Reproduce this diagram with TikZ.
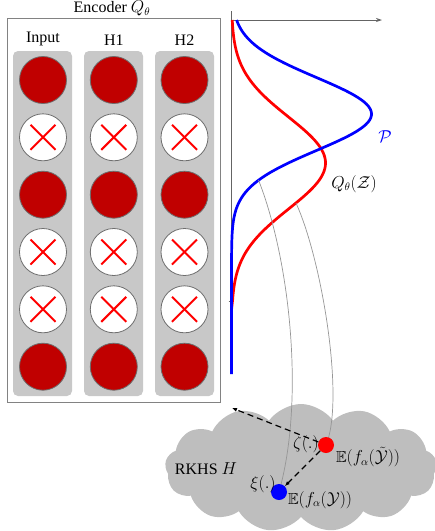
\documentclass[tikz,border=0pt]{standalone}
\usepackage{amssymb}
\usepackage{fontspec}
\setmainfont{Liberation Serif}
\usetikzlibrary{shapes.symbols,arrows.meta}
\definecolor{darkred}{RGB}{192,0,0}
\definecolor{colgray}{RGB}{200,200,200}
\definecolor{cloudgray}{RGB}{190,190,190}
\definecolor{circgray}{RGB}{110,110,110}
\definecolor{boxgray}{RGB}{130,130,130}
\definecolor{axisgray}{RGB}{100,100,100}
\definecolor{thingray}{RGB}{150,150,150}
\begin{document}
\begin{tikzpicture}[x=1pt,y=-1pt,font=\fontsize{16}{19}\selectfont,
  colbox/.style={fill=colgray,rounded corners=5pt,minimum width=59pt,minimum height=345pt,inner sep=0pt},
  cell/.style={circle,draw=circgray,line width=0.8pt,fill=#1,minimum size=47pt,inner sep=0pt},
  xline/.style={red,line width=2pt},
  axis/.style={axisgray,line width=0.8pt},
  curve/.style={line width=2.7pt},
  gline/.style={thingray,line width=0.7pt},
  darr/.style={dashed,dash pattern=on 6pt off 4pt,line width=1.2pt,-{Latex[length=5pt,width=4pt]}},
  dot/.style={circle,minimum size=16pt,inner sep=0pt}]
\useasboundingbox (0,0) rectangle (435,531);

% encoder box
\node[draw=boxgray,line width=0.8pt,minimum width=213pt,minimum height=384pt,inner sep=0pt] (enc) at (113.5,210) {};
\node[anchor=base,inner sep=0.5pt] (title) at (112,12.5) {Encoder $Q_\theta$};
\node[colbox] (c0) at (42.5,223.5) {};
\node[colbox] (c1) at (113.5,223.5) {};
\node[colbox] (c2) at (184.5,223.5) {};
\node[anchor=base] (lin) at (43,42) {Input};
\node[anchor=base] (lh1) at (113.8,45) {H1};
\node[anchor=base] (lh2) at (184.5,45) {H2};
\foreach \c/\cx in {0/43,1/113.8,2/184.5}{
  \foreach \r/\ry/\f in {1/80/darkred,2/137.3/white,3/194.7/darkred,4/252/white,5/309.3/white,6/366.7/darkred}{
    \node[cell=\f] (n\c\r) at (\cx,\ry) {};
  }
  \foreach \r in {2,4,5}{
    \draw[xline] (n\c\r.center) +(-12.5,-12.5) -- +(12.5,12.5);
    \draw[xline] (n\c\r.center) +(-12.5,12.5) -- +(12.5,-12.5);
  }
}

% axes
\draw[axis] (231.5,11) -- (231.5,374);
\draw[axis,-{Stealth[length=6pt,width=4pt]}] (231.5,20) -- (382,20);
\draw[axis] (228.5,301) -- (231.5,301);

% curves
\draw[curve,red] plot[domain=20:300,samples=120] ({231.5+94*exp(-0.5*((\x-163)/46)*((\x-163)/46))},\x) -- (231.5,310);
\draw[curve,blue] plot[domain=20:290,samples=120] ({231.5+140*exp(-0.5*((\x-114)/36.5)*((\x-114)/36.5))},\x) -- (231.5,374);
\node[blue] (lp) at (385,137) {$\mathcal{P}$};
\node (lq) at (354,184) {$Q_\theta(\mathcal{Z})$};

% cloud
\node[cloud,cloud puffs=13,cloud puff arc=110,aspect=2.1,fill=cloudgray,minimum width=272pt,minimum height=128pt,inner sep=0pt] (rkhs) at (301,468) {};
\node (lrk) at (206,469) {RKHS $H$};

\coordinate (bq) at (258.5,180);
\coordinate (rq) at (296,203);
\coordinate (hfree) at (232,408);
\node[dot] (rdot) at (326,445) {};
\node[dot] (bdot) at (279,492) {};
\draw[gline] (bq) .. controls (290,260) and (305,400) .. (bdot.center);
\draw[gline] (rq) .. controls (322,260) and (345,400) .. (rdot.center);
\draw[darr] (rdot) -- (hfree);
\draw[darr] (rdot) -- (bdot);
\fill[red] (rdot.center) circle (8);
\fill[blue] (bdot.center) circle (8);
\node (lz) at (306,444) {$\zeta(.)$};
\node (lx) at (263,484) {$\xi(.)$};
\node (le1) at (368,457) {$\mathbb{E}(f_\alpha(\tilde{\mathcal{Y}}))$};
\node (le2) at (320,500) {$\mathbb{E}(f_\alpha(\mathcal{Y}))$};
\end{tikzpicture}
\end{document}
